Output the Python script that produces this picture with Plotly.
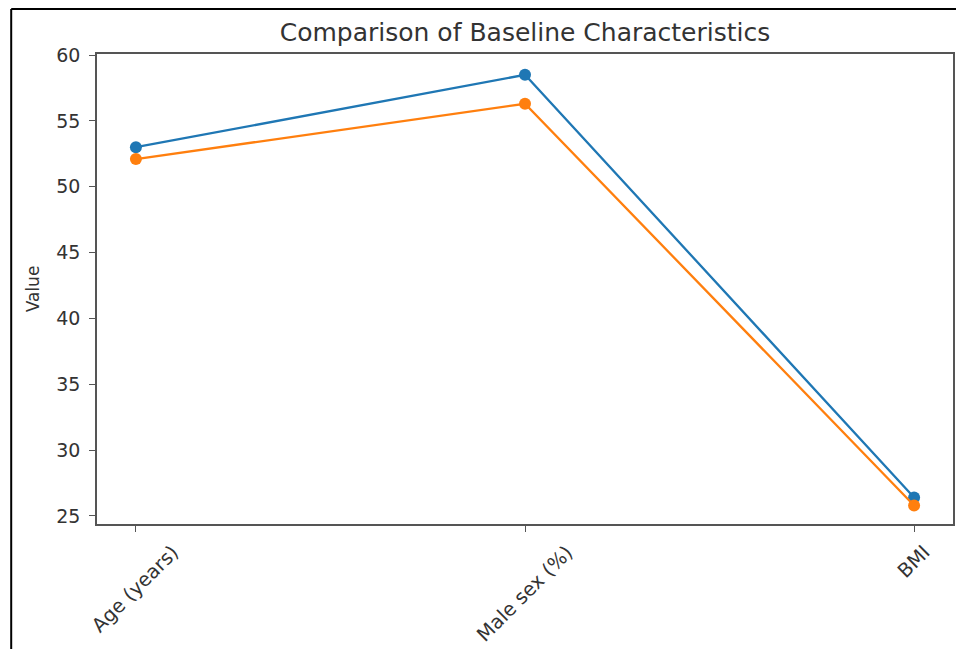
import plotly.graph_objects as go

categories = ["Age (years)", "Male sex (%)", "BMI"]
series_a = [53.0, 58.5, 26.4]
series_b = [52.1, 56.3, 25.8]
y_ticks = [25, 30, 35, 40, 45, 50, 55, 60]

x_idx = list(range(len(categories)))
W, H = 958, 649
L, R, T, B = 97, 3, 54, 125

fig = go.Figure()
fig.add_trace(go.Scatter(x=x_idx, y=series_a, mode="lines+markers", name="Group A",
                         line=dict(color="#1f77b4", width=2.3),
                         marker=dict(color="#1f77b4", size=12)))
fig.add_trace(go.Scatter(x=x_idx, y=series_b, mode="lines+markers", name="Group B",
                         line=dict(color="#ff7f0e", width=2.3),
                         marker=dict(color="#ff7f0e", size=12)))

font = "DejaVu Sans, sans-serif"
axis_common = dict(showgrid=False, zeroline=False, showline=True, linecolor="#555",
                   linewidth=1.5, mirror=True, ticks="outside", ticklen=6,
                   tickcolor="#555", tickwidth=1.2)

fig.update_xaxes(range=[-0.1, 2.1], tickvals=x_idx, showticklabels=False, **axis_common)
fig.update_yaxes(range=[24.39, 60.08], tickvals=y_ticks, ticktext=[str(v) for v in y_ticks],
                 tickfont=dict(family=font, size=19, color="#333"),
                 ticklabelstandoff=5,
                 title=dict(text="Value", font=dict(family=font, size=17, color="#333"), standoff=12),
                 **axis_common)

for i, c in enumerate(categories):
    fig.add_annotation(x=i, y=(524 - 538) / (H - T - B), xref="x", yref="paper", text=c,
                       showarrow=False, textangle=-45, xanchor="center", yanchor="top",
                       font=dict(family=font, size=19.5, color="#333"))

# document frame lines
fig.add_shape(type="line", xref="paper", yref="paper",
              x0=(11 - L) / (W - L - R), x1=(W - L) / (W - L - R),
              y0=(H - B - 9) / (H - T - B), y1=(H - B - 9) / (H - T - B),
              line=dict(color="black", width=2))
fig.add_shape(type="line", xref="paper", yref="paper",
              x0=(11 - L) / (W - L - R), x1=(11 - L) / (W - L - R),
              y0=(H - B - 9) / (H - T - B), y1=-B / (H - T - B),
              line=dict(color="black", width=2))

fig.update_layout(
    width=W, height=H,
    margin=dict(l=L, r=R, t=T, b=B),
    paper_bgcolor="white", plot_bgcolor="white",
    showlegend=False,
    title=dict(text="Comparison of Baseline Characteristics", x=0.5, xref="paper",
               y=1 - 32 / H, yref="container", xanchor="center", yanchor="middle",
               font=dict(family=font, size=25, color="#333")),
)

fig.write_html("out.html", config={"displayModeBar": False},
               post_script="document.body.style.margin='0px';document.body.style.padding='0px';")
